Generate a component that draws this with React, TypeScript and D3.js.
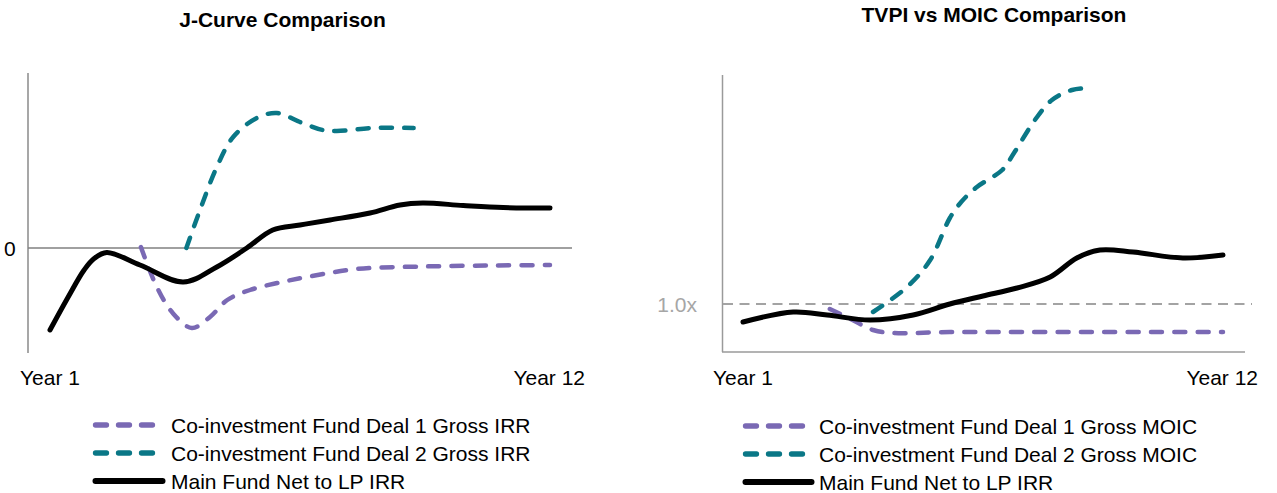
import React, { useEffect, useRef } from 'react'
import * as d3 from 'd3'

// [year, IRR %]
const jcurveDeal1: [number, number][] = [
    [3.0, 0.1], [3.35, -3.9], [3.7, -6.5], [4.12, -8.0], [4.52, -6.9], [4.9, -5.2],
    [5.4, -4.2], [6.0, -3.5], [6.65, -2.9], [7.75, -2.1], [9.2, -1.85], [10.7, -1.75], [12.0, -1.7],
]
const jcurveDeal2: [number, number][] = [
    [4.0, 0], [4.3, 3.8], [4.67, 8.1], [5.03, 11.1], [5.55, 13.0], [5.99, 13.5],
    [6.5, 12.6], [7.0, 11.8], [7.31, 11.7], [8.1, 12.0], [9.0, 12.0],
]
const jcurveMain: [number, number][] = [
    [1.0, -8.2], [1.4, -4.9], [1.75, -2.2], [1.97, -1.05], [2.25, -0.45], [2.98, -1.7], [3.93, -3.4],
    [4.67, -1.9], [5.33, 0], [5.9, 1.8], [6.5, 2.3], [7.16, 2.8], [8.04, 3.5], [8.7, 4.3],
    [9.2, 4.5], [10.09, 4.25], [10.97, 4.05], [12.0, 4.0],
]

// [year, multiple]
const moicDeal1: [number, number][] = [
    [2.99, 0.975], [3.38, 0.935], [3.98, 0.87], [4.44, 0.855], [5.74, 0.86], [8.0, 0.86], [12.0, 0.86],
]
const moicDeal2: [number, number][] = [
    [3.98, 0.96], [4.76, 1.085], [5.29, 1.22], [5.74, 1.43], [6.0, 1.51], [6.36, 1.585],
    [6.94, 1.67], [7.21, 1.755], [7.69, 1.92], [8.08, 2.02], [8.54, 2.07], [9.0, 2.08],
]
const moicMain: [number, number][] = [
    [1.0, 0.91], [2.15, 0.96], [2.93, 0.945], [3.91, 0.92], [4.9, 0.945], [5.74, 1.0],
    [6.5, 1.04], [7.28, 1.08], [8.04, 1.135], [8.65, 1.23], [9.18, 1.27], [9.94, 1.26],
    [11.08, 1.23], [12.0, 1.245],
]

const xTickLabels = ['Year 1', 'Year 12']
const leftLegend = ['Co-investment Fund Deal 1 Gross IRR', 'Co-investment Fund Deal 2 Gross IRR', 'Main Fund Net to LP IRR']
const rightLegend = ['Co-investment Fund Deal 1 Gross MOIC', 'Co-investment Fund Deal 2 Gross MOIC', 'Main Fund Net to LP IRR']

const PURPLE = '#7a69b4'
const TEAL = '#0a7786'
const FONT = 'Liberation Sans, Arial, sans-serif'

export default function App() {
    const svgRef = useRef<SVGSVGElement>(null)

    useEffect(() => {
        var svg = d3.select(svgRef.current)
        svg.selectAll('*').remove()
        svg.style('font-family', FONT)

        var seriesStyle = [
            { color: PURPLE, dash: '11 12.3', width: 4.5 },
            { color: TEAL, dash: '11 12.3', width: 4.5 },
            { color: '#000', dash: null, width: 5 },
        ]

        var drawLine = function (g: any, data: [number, number][], x: any, y: any, st: any) {
            var line = d3.line<[number, number]>()
                .x(d => x(d[0]))
                .y(d => y(d[1]))
                .curve(d3.curveCatmullRom.alpha(0.5))
            var p = g.append('path')
                .attr('d', line(data))
                .attr('fill', 'none')
                .attr('stroke', st.color)
                .attr('stroke-width', st.width)
                .attr('stroke-linecap', 'round')
                .attr('stroke-linejoin', 'round')
            if (st.dash) p.attr('stroke-dasharray', st.dash)
        }

        var drawLegend = function (g: any, labels: string[], x0: number, ys: number[], len: number[], textX: number) {
            labels.forEach((label, i) => {
                var st = seriesStyle[i]
                var l = g.append('line')
                    .attr('x1', x0 + 2.5).attr('x2', x0 + len[i] - 2.5)
                    .attr('y1', ys[i]).attr('y2', ys[i])
                    .attr('stroke', st.color)
                    .attr('stroke-width', st.dash ? 5.3 : 6)
                    .attr('stroke-linecap', 'round')
                if (st.dash) l.attr('stroke-dasharray', '11 12')
                g.append('text')
                    .attr('x', textX).attr('y', ys[i] + 7.5)
                    .style('font-size', '21px')
                    .attr('fill', '#000')
                    .text(label)
            })
        }

        // ---- left: J-Curve ----
        var left = svg.append('g')
        var xL = d3.scaleLinear().domain([1, 12]).range([50, 550])
        var yL = d3.scaleLinear().domain([-10.5, 17.5]).range([353, 73])

        left.append('text').attr('x', 282.5).attr('y', 27).attr('text-anchor', 'middle')
            .style('font-size', '21px').style('font-weight', 'bold').text('J-Curve Comparison')

        left.append('line').attr('x1', 28).attr('x2', 28).attr('y1', yL(17.5)).attr('y2', yL(-10.5))
            .attr('stroke', '#8a8a8a').attr('stroke-width', 1.5)
        left.append('line').attr('x1', 28).attr('x2', 572).attr('y1', yL(0)).attr('y2', yL(0))
            .attr('stroke', '#808080').attr('stroke-width', 1.5)
        left.append('text').attr('x', 4).attr('y', yL(0) + 8).style('font-size', '21px').text('0')

        left.append('text').attr('x', 20).attr('y', 385).style('font-size', '21px').text(xTickLabels[0])
        left.append('text').attr('x', 585).attr('y', 385).attr('text-anchor', 'end').style('font-size', '21px').text(xTickLabels[1])

        drawLine(left, jcurveDeal1, xL, yL, seriesStyle[0])
        drawLine(left, jcurveDeal2, xL, yL, seriesStyle[1])
        drawLine(left, jcurveMain, xL, yL, seriesStyle[2])

        drawLegend(left, leftLegend, 93, [425, 453, 481], [62, 62, 72], 171)

        // ---- right: TVPI vs MOIC ----
        var right = svg.append('g')
        var xR = d3.scaleLinear().domain([1, 12]).range([743, 1223])
        var yR = d3.scaleLinear().domain([0.76, 2.145]).range([352, 75])

        right.append('text').attr('x', 994).attr('y', 22).attr('text-anchor', 'middle')
            .style('font-size', '21px').style('font-weight', 'bold').text('TVPI vs MOIC Comparison')

        right.append('line').attr('x1', 722.5).attr('x2', 722.5).attr('y1', 75).attr('y2', 352)
            .attr('stroke', '#9a9a9a').attr('stroke-width', 1.5)
        right.append('line').attr('x1', 722).attr('x2', 1245).attr('y1', 352).attr('y2', 352)
            .attr('stroke', '#9a9a9a').attr('stroke-width', 1.5)
        right.append('line').attr('x1', 723).attr('x2', 1252).attr('y1', yR(1)).attr('y2', yR(1))
            .attr('stroke', '#a3a3a3').attr('stroke-width', 2).attr('stroke-dasharray', '10 6.5')
        right.append('text').attr('x', 697).attr('y', yR(1) + 7.5).attr('text-anchor', 'end')
            .style('font-size', '21px').attr('fill', '#a6a6a6').text('1.0x')

        right.append('text').attr('x', 713).attr('y', 385).style('font-size', '21px').text(xTickLabels[0])
        right.append('text').attr('x', 1258).attr('y', 385).attr('text-anchor', 'end').style('font-size', '21px').text(xTickLabels[1])

        drawLine(right, moicDeal1, xR, yR, seriesStyle[0])
        drawLine(right, moicDeal2, xR, yR, seriesStyle[1])
        drawLine(right, moicMain, xR, yR, seriesStyle[2])

        drawLegend(right, rightLegend, 743, [426, 454, 482], [62, 62, 71], 819)
    }, [])

    return (
        <svg ref={svgRef} width={1277} height={493}
            style={{ position: 'absolute', left: 0, top: 0, background: '#fff' }} />
    )
}
